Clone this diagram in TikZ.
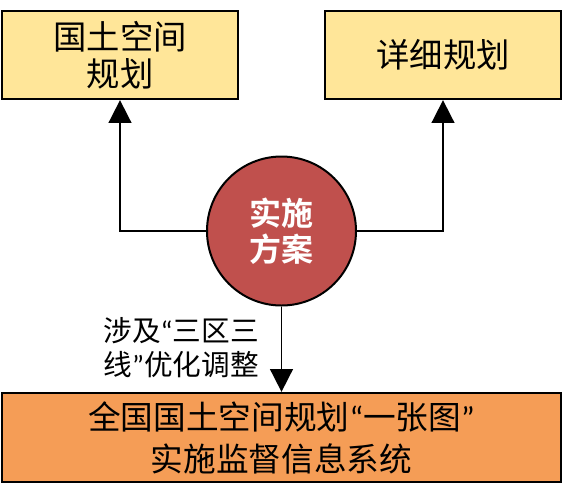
\documentclass[tikz,border=0pt]{standalone}
\usepackage{fontspec}
\setmainfont{Noto Sans CJK SC}[BoldFont={* Bold}]
\newfontfamily\quotefont{Carlito}
\usepackage{tikz}
\usetikzlibrary{arrows.meta,positioning}
\definecolor{planyellow}{HTML}{FFE699}
\definecolor{sysorange}{HTML}{F59D56}
\definecolor{schemered}{HTML}{C0504D}
\newcommand{\qL}{{\quotefont “}}
\newcommand{\qR}{{\quotefont ”}}

\begin{document}
\begin{tikzpicture}[x=0.75pt,y=-0.75pt,% pixel grid, y pointing down
			every node/.style={
				align=center,  		% "\\" breaks lines
				inner sep=0pt
			},
			every edge/.style={draw,line width=1.3pt},
			planbox/.style={rectangle,line width=1.7pt,draw=black,fill=planyellow,
				minimum width=177pt,minimum height=66pt,font=\fontsize{25}{27.75}\selectfont},
			sysbox/.style={rectangle,line width=1.7pt,draw=black,fill=sysorange,
				minimum width=419pt,minimum height=66.75pt,font=\fontsize{24.5}{31.5}\selectfont},
			scheme/.style={circle,line width=1.5pt,draw=black,fill=schemered,text=white,
				minimum size=111.75pt,font=\bfseries\fontsize{24}{27}\selectfont}
		]
		\useasboundingbox (0,0) rectangle (563,494);
		\node[scheme](R3) at (281.5,231) {实施\\方案};
		\node[planbox](R1) at (120,55) {国土空间\\规划};
		\node[planbox](R2) at (443,55) {详细规划};
		\node[sysbox](R4) at (281.5,437.5) {全国国土空间规划\qL 一张图\qR\\实施监督信息系统};
		\node[font=\fontsize{21.5}{26}\selectfont](R5) at (181,347.5) {涉及\qL 三区三\\线\qR 优化调整};
		\path[-{Triangle[length=17pt,width=17pt]}]
		(R3.west)edge [to path={-| (\tikztotarget)}] (R1.south)
		(R3.east)edge [to path={-| (\tikztotarget)}] (R2.south)
		(R3)edge [] (R4)
		;
	\end{tikzpicture}
\end{document}
